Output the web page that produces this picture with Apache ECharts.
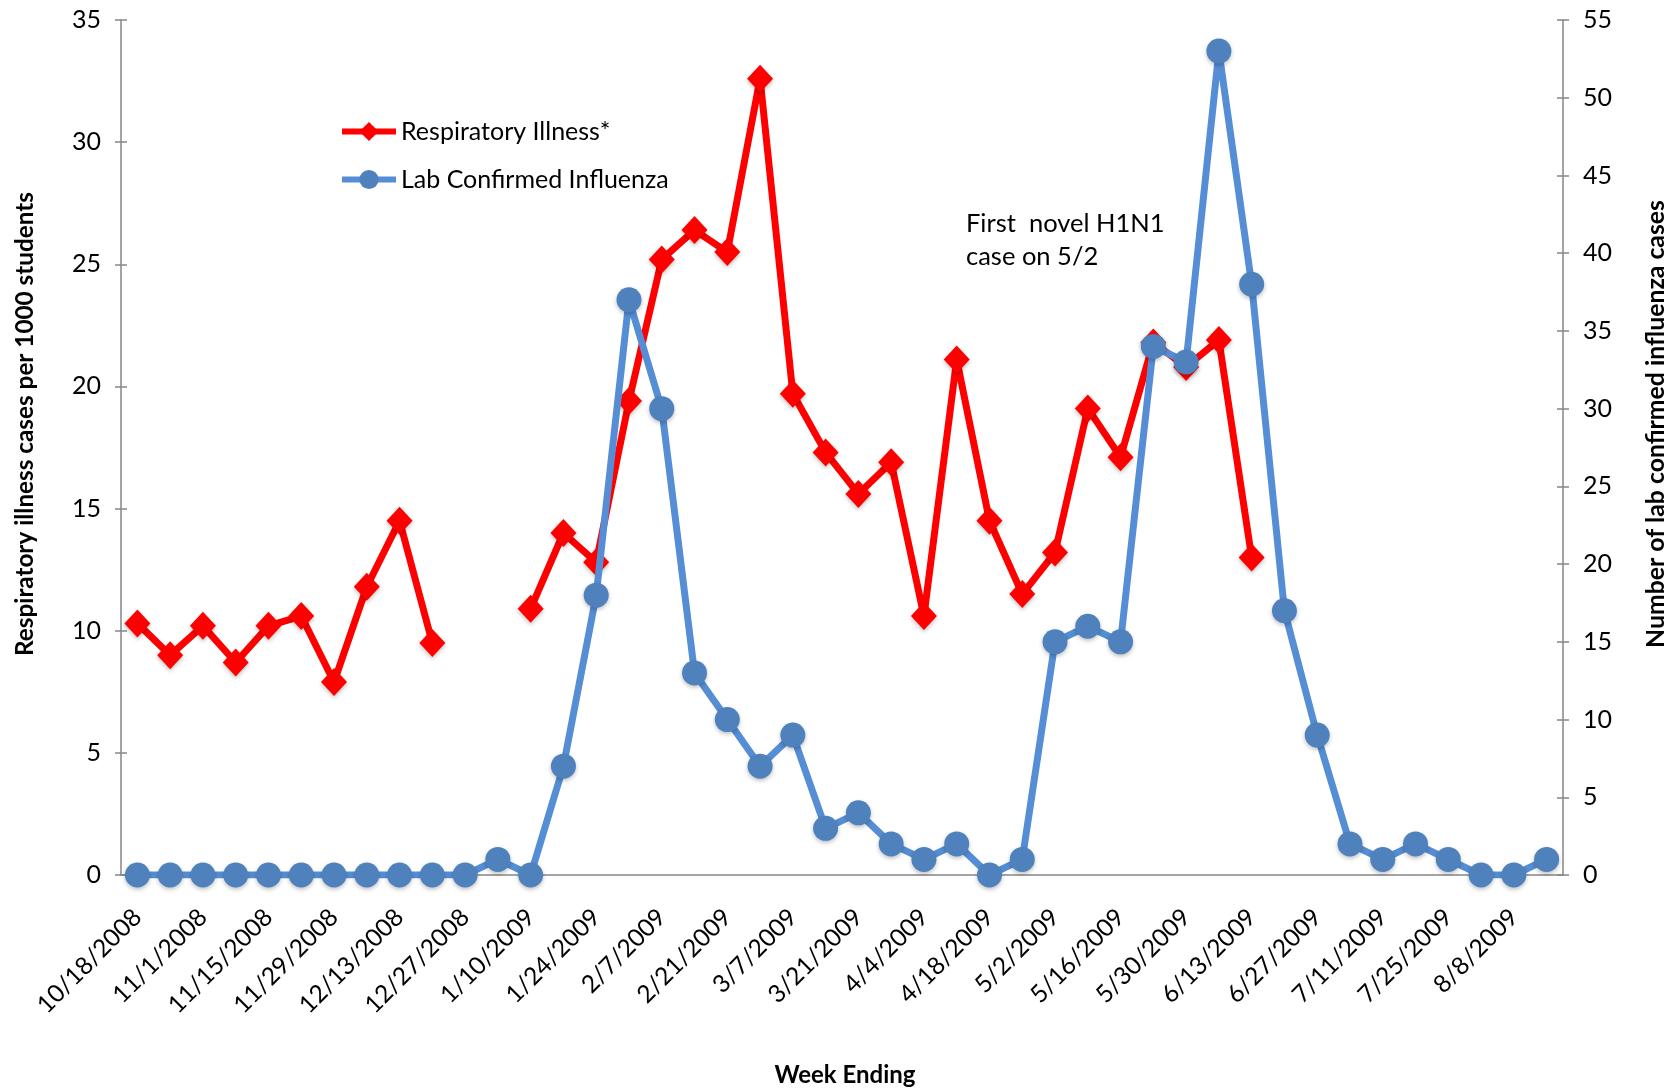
<!DOCTYPE html>
<html><head><meta charset="utf-8">
<script src="https://cdn.jsdelivr.net/npm/echarts@6/dist/echarts.min.js"></script>
<style>html,body{margin:0;padding:0;background:#fff}#c{width:1674px;height:1089px}</style>
</head><body><div id="c"></div>
<script>
const weeks = ['10/18/2008','10/25/2008','11/1/2008','11/8/2008','11/15/2008','11/22/2008','11/29/2008','12/6/2008','12/13/2008','12/20/2008','12/27/2008','1/3/2009','1/10/2009','1/17/2009','1/24/2009','1/31/2009','2/7/2009','2/14/2009','2/21/2009','2/28/2009','3/7/2009','3/14/2009','3/21/2009','3/28/2009','4/4/2009','4/11/2009','4/18/2009','4/25/2009','5/2/2009','5/9/2009','5/16/2009','5/23/2009','5/30/2009','6/6/2009','6/13/2009','6/20/2009','6/27/2009','7/4/2009','7/11/2009','7/18/2009','7/25/2009','8/1/2009','8/8/2009','8/15/2009'];
const respiratoryIllness = [10.3,9.0,10.2,8.7,10.2,10.6,7.9,11.8,14.5,9.5,null,null,10.9,14.0,12.8,19.4,25.2,26.4,25.5,32.6,19.7,17.3,15.6,16.9,10.6,21.1,14.5,11.5,13.2,19.1,17.1,21.8,20.8,21.9,13.0,null,null,null,null,null,null,null,null,null];
const labConfirmedInfluenza = [0,0,0,0,0,0,0,0,0,0,0,1,0,7,18,37,30,13,10,7,9,3,4,2,1,2,0,1,15,16,15,34,33,53,38,17,9,2,1,2,1,0,0,1];
const leftAxisTicks = [0,5,10,15,20,25,30,35];
const rightAxisTicks = [0,5,10,15,20,25,30,35,40,45,50,55];
const seriesNames = ['Respiratory Illness*','Lab Confirmed Influenza'];
const annotationText = 'First  novel H1N1\ncase on 5/2';
const leftTitle = 'Respiratory illness cases per 1000 students';
const rightTitle = 'Number of lab confirmed influenza cases';
const xTitle = 'Week Ending';

const FONT = 'Lato';
const AXIS_COLOR = '#868686';
const RED = '#FF0000', BLUE_LINE = '#558ED5', BLUE_MARK = '#4F81BD';
const chart = echarts.init(document.getElementById('c'), null, {renderer:'canvas'});

const valAxis = (ticks, pos, inner) => ({
  type:'value', position:pos, min:ticks[0], max:ticks[ticks.length-1], interval:ticks[1]-ticks[0],
  axisLine:{show:!inner, lineStyle:{color:AXIS_COLOR, width:1.5}},
  axisTick:{show:true, inside:!!inner, length:6, lineStyle:{color:AXIS_COLOR, width:1.5}},
  axisLabel:{show:!inner, color:'#000', fontFamily:FONT, fontSize:25, margin:20},
  splitLine:{show:false}
});

chart.setOption({
  animation:false,
  backgroundColor:'#fff',
  grid:{left:121, right:111, top:20, bottom:214},
  legend:{
    left:339, top:119, orient:'vertical', itemWidth:54, itemHeight:24, itemGap:23, padding:0,
    textStyle:{fontFamily:FONT, fontSize:25, color:'#000'},
    data:[
      {name:seriesNames[0], lineStyle:{color:RED, width:6}},
      {name:seriesNames[1], lineStyle:{color:BLUE_LINE, width:6}}
    ]
  },
  xAxis:[{
    type:'category', data:weeks, boundaryGap:true,
    axisLine:{lineStyle:{color:AXIS_COLOR, width:1.5}},
    axisTick:{interval:1, length:6, lineStyle:{color:AXIS_COLOR, width:1.5}},
    axisLabel:{interval:1, rotate:45, color:'#000', fontFamily:FONT, fontSize:24.5, margin:38}
  },{
    type:'category', data:weeks, boundaryGap:true, position:'bottom',
    axisLine:{show:false},
    axisTick:{interval:1, inside:true, length:6, lineStyle:{color:AXIS_COLOR, width:1.5}},
    axisLabel:{show:false}
  }],
  yAxis:[valAxis(leftAxisTicks,'left'), valAxis(rightAxisTicks,'right'),
         valAxis(leftAxisTicks,'left',true), valAxis(rightAxisTicks,'right',true)],
  series:[{
    name:seriesNames[0], type:'line', yAxisIndex:0, data:respiratoryIllness, connectNulls:false,
    symbol:'diamond', symbolSize:[26,28], showAllSymbol:true,
    lineStyle:{color:RED, width:7},
    itemStyle:{color:RED, shadowBlur:4, shadowColor:'rgba(0,0,0,0.25)', shadowOffsetY:2},
    z:2
  },{
    name:seriesNames[1], type:'line', yAxisIndex:1, data:labConfirmedInfluenza,
    symbol:'circle', symbolSize:25, showAllSymbol:true,
    lineStyle:{color:BLUE_LINE, width:7},
    itemStyle:{color:BLUE_MARK, shadowBlur:4, shadowColor:'rgba(0,0,0,0.25)', shadowOffsetY:2},
    z:3
  }],
  graphic:[
    {type:'text', x:966, y:207, style:{text:annotationText, fontFamily:FONT, fontSize:25.5, fill:'#000', lineHeight:33, align:'left', verticalAlign:'top'}},
    {type:'text', x:25, y:424, rotation:Math.PI/2, style:{text:leftTitle, fontFamily:FONT, fontSize:24.3, fontWeight:'bold', fill:'#000', align:'center', verticalAlign:'middle'}},
    {type:'text', x:1656, y:424, rotation:Math.PI/2, style:{text:rightTitle, fontFamily:FONT, fontSize:24.8, fontWeight:'bold', fill:'#000', align:'center', verticalAlign:'middle'}},
    {type:'text', x:845, y:1075, style:{text:xTitle, fontFamily:FONT, fontSize:24, fontWeight:'bold', fill:'#000', align:'center', verticalAlign:'middle'}}
  ]
});
</script></body></html>
